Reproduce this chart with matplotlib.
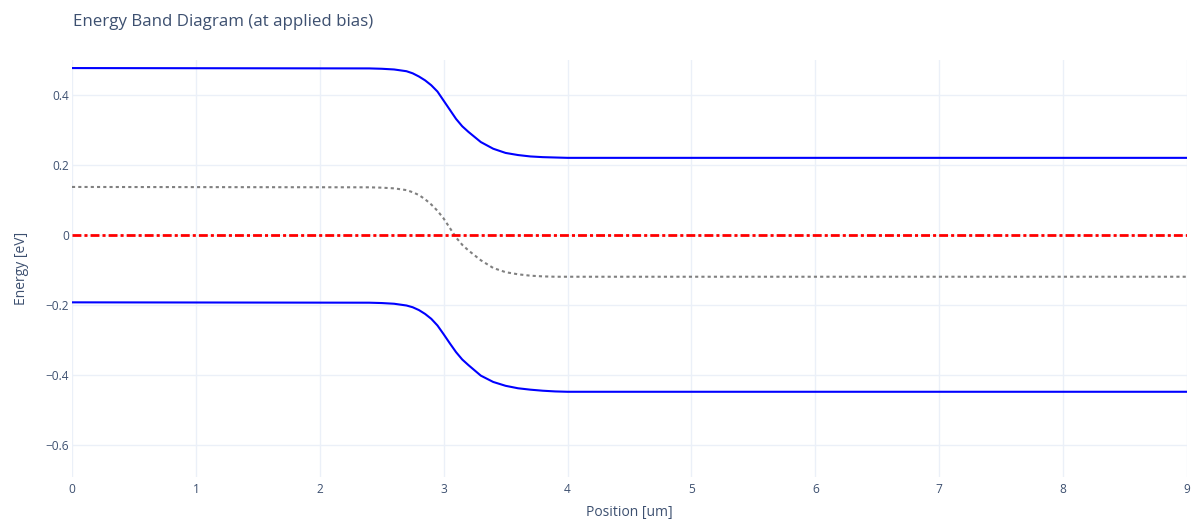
import matplotlib.pyplot as plt

plt.rcParams['font.family'] = ['Open Sans', 'DejaVu Sans']

# position grid [um] and band edges [eV]
position = [0.0, 2.4, 2.5, 2.6, 2.7, 2.75, 2.8, 2.85, 2.9, 2.95, 3.0, 3.05,
            3.1, 3.15, 3.2, 3.3, 3.4, 3.5, 3.6, 3.7, 3.8, 3.9, 4.0, 4.2, 9.0]
ec = [0.476, 0.475, 0.474, 0.472, 0.467, 0.461, 0.452, 0.441, 0.427, 0.409,
      0.383, 0.357, 0.331, 0.310, 0.294, 0.265, 0.246, 0.234, 0.228, 0.224,
      0.222, 0.221, 0.220, 0.220, 0.220]
ev = [-0.192, -0.193, -0.194, -0.196, -0.201, -0.206, -0.214, -0.225, -0.239,
      -0.258, -0.283, -0.309, -0.334, -0.355, -0.371, -0.401, -0.419, -0.430,
      -0.437, -0.441, -0.444, -0.446, -0.447, -0.447, -0.447]
ei = [0.137, 0.136, 0.135, 0.133, 0.128, 0.122, 0.114, 0.102, 0.087, 0.069,
      0.047, 0.020, -0.007, -0.028, -0.044, -0.072, -0.094, -0.106, -0.112,
      -0.116, -0.118, -0.119, -0.119, -0.119, -0.119]
fermi_x = [0.0, 9.0]
fermi = [0.0, 0.0]

yticks = [-0.6, -0.4, -0.2, 0.0, 0.2, 0.4]
ytick_labels = ['\u22120.6', '\u22120.4', '\u22120.2', '0', '0.2', '0.4']
xticks = list(range(10))

text_col = '#3d5070'
grid_col = '#ebf0f8'

fig = plt.figure(figsize=(11.92, 5.2), dpi=100)
ax = fig.add_axes([72 / 1192, 43 / 520, 1115 / 1192, 417 / 520])

ax.plot(position, ec, color='blue', lw=1.5, solid_capstyle='butt')
ax.plot(position, ev, color='blue', lw=1.5, solid_capstyle='butt')
ax.plot(position, ei, color='gray', lw=1.5, linestyle=(0, (1.5, 1.5)))
ax.plot(fermi_x, fermi, color='red', lw=2.0, linestyle=(0, (3.2, 1.1, 1.1, 1.1)))

ax.set_xlim(0, 9)
ax.set_ylim(-0.69, 0.499)
ax.set_xticks(xticks)
ax.set_xticklabels([str(t) for t in xticks])
ax.set_yticks(yticks)
ax.set_yticklabels(ytick_labels)

ax.grid(True, color=grid_col, lw=1)
ax.set_axisbelow(True)
for s in ax.spines.values():
    s.set_visible(False)
ax.tick_params(length=0, labelsize=8.6, labelcolor=text_col)
ax.tick_params(axis='y', pad=2)
ax.tick_params(axis='x', pad=4)

ax.set_xlabel('Position [um]', fontsize=10, color=text_col, labelpad=7)
ax.set_ylabel('Energy [eV]', fontsize=10, color=text_col, labelpad=12)

fig.text(73 / 1192, 1 - 22 / 520, 'Energy Band Diagram (at applied bias)',
         fontsize=12.2, color=text_col, ha='left', va='center')

fig.savefig('out.png', dpi=100)
